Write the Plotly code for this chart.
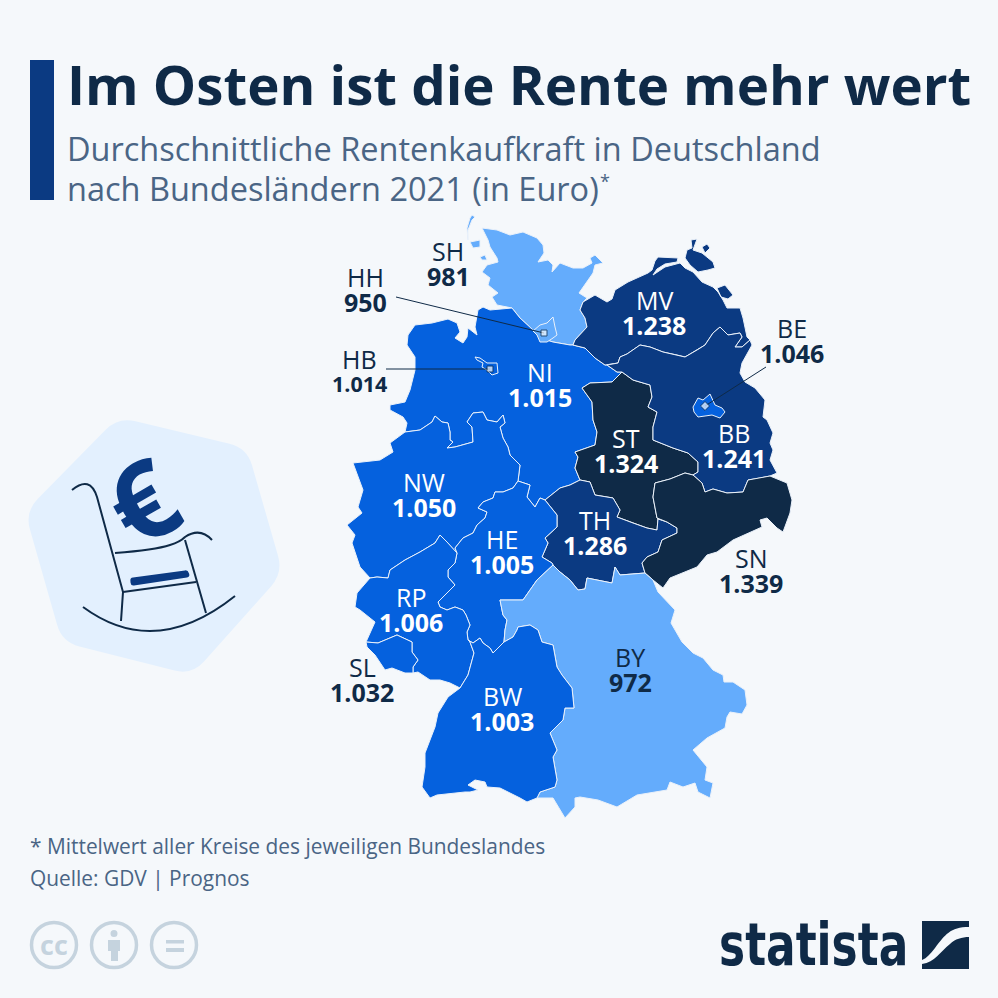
import plotly.graph_objects as go

# Werte je Bundesland
STATES = ['SH', 'NI', 'MV', 'ST', 'BB', 'NW', 'TH', 'HE', 'SN', 'RP', 'SL', 'BY', 'BW', 'HH', 'HB', 'BE']
RENTE = [981, 1015, 1238, 1324, 1241, 1050, 1286, 1005, 1339, 1006, 1032, 972, 1003, 950, 1014, 1046]

# Beschriftungen auf der Karte
LABEL_X = [448, 540, 654, 626, 734, 424, 595, 502, 751, 411, 362, 630, 502, 365, 359, 792]
LABEL_Y = [251, 372, 300, 438, 433, 482, 520, 539, 558, 597, 667, 657, 696, 277, 359, 328]
LABEL_OUTSIDE = ['SH', 'HH', 'HB', 'BE', 'SN', 'SL', 'BY']

# Grenzverlauf (Kartenkoordinaten), gemeinsame Abschnitte
SH_COAST = [(512, 308), (497, 305), (492, 297), (498, 293), (488, 285), (490, 278), (482, 272), (487, 265),
            (498, 262), (497, 258), (490, 247), (488, 240), (482, 228), (497, 230), (510, 235), (523, 232),
            (537, 238), (543, 245), (544, 253), (538, 262), (548, 260), (553, 265), (552, 272), (560, 263),
            (573, 268), (583, 268), (592, 263), (590, 258), (595, 255), (603, 263), (595, 265), (593, 273),
            (579, 293), (587, 298), (583, 302)]
SH_MV = [(573, 345), (575, 340), (587, 327), (585, 318), (580, 310), (583, 302)]
NI_SH = [(512, 308), (520, 318), (533, 330), (540, 338), (553, 342), (570, 345), (573, 345)]
NI_COAST = [(405, 432), (407, 423), (403, 417), (390, 410), (390, 405), (405, 402), (410, 390), (415, 370),
            (415, 357), (407, 345), (408, 335), (415, 325), (432, 323), (448, 319), (457, 323), (460, 332),
            (455, 338), (463, 343), (467, 337), (468, 328), (477, 335), (475, 327), (478, 310), (483, 307),
            (490, 310), (512, 308)]
NI_MV = [(573, 345), (585, 348), (595, 358), (605, 365), (607, 365)]
NI_BB = [(607, 365), (617, 372), (622, 372)]
NI_ST = [(622, 372), (612, 382), (590, 383), (582, 388), (592, 402), (593, 420), (597, 432), (595, 445),
         (575, 452), (578, 457), (575, 468), (580, 480)]
NI_TH = [(580, 480), (570, 485), (560, 488), (545, 500)]
NI_HE = [(518, 481), (530, 485), (527, 497), (535, 507), (540, 498), (545, 500)]
NI_NW = [(405, 432), (420, 430), (432, 422), (435, 416), (442, 422), (448, 423), (450, 432), (450, 440),
         (453, 442), (447, 448), (455, 447), (473, 442), (472, 427), (467, 422), (473, 413), (483, 412),
         (487, 420), (497, 422), (503, 415), (505, 423), (500, 427), (503, 438), (508, 447), (510, 455),
         (520, 465), (518, 481)]
MV_COAST = [(583, 302), (595, 295), (607, 302), (612, 299), (615, 290), (628, 282), (648, 273), (652, 270),
            (655, 261), (658, 257), (678, 258), (677, 262), (665, 264), (657, 269), (653, 275), (665, 267),
            (680, 263), (685, 268), (693, 272), (702, 282), (713, 287), (718, 292), (723, 300), (727, 308),
            (740, 308), (743, 318), (747, 337), (750, 340)]
MV_BB = [(750, 340), (742, 347), (735, 347), (742, 337), (740, 333), (728, 335), (720, 327), (713, 333),
         (705, 345), (697, 350), (685, 357), (677, 355), (663, 352), (650, 347), (640, 345), (627, 354),
         (620, 357), (618, 363), (607, 365)]
BB_COAST = [(750, 340), (752, 345), (748, 352), (742, 363), (740, 373), (745, 382), (755, 388), (765, 400),
            (763, 417), (767, 420), (773, 433), (770, 443), (773, 450), (770, 460), (777, 473), (770, 476)]
BB_SN = [(693, 475), (702, 483), (705, 492), (713, 489), (727, 493), (743, 492), (748, 480), (760, 478), (770, 476)]
ST_BB = [(622, 372), (633, 380), (650, 385), (652, 397), (648, 407), (657, 412), (653, 427), (653, 440),
         (673, 448), (688, 453), (698, 462), (698, 472), (693, 475)]
ST_SN = [(693, 475), (685, 473), (670, 479), (655, 483), (653, 497), (657, 518), (658, 519)]
ST_TH = [(580, 480), (590, 482), (595, 495), (613, 498), (620, 510), (617, 517), (633, 523), (647, 528),
         (657, 530), (658, 519)]
TH_SN = [(658, 519), (667, 522), (677, 528), (677, 533), (662, 540), (658, 552), (647, 557), (642, 563), (645, 573)]
TH_BY = [(645, 573), (620, 575), (615, 567), (612, 583), (587, 578), (585, 589), (578, 590), (570, 580),
         (560, 572), (553, 565)]
HE_TH = [(545, 500), (557, 515), (557, 527), (545, 538), (548, 543), (542, 557), (552, 563), (553, 565)]
HE_BY = [(553, 565), (537, 580), (523, 600), (500, 600), (503, 615), (507, 620), (505, 630), (504, 642)]
HE_BW = [(468, 640), (473, 643), (480, 638), (483, 643), (490, 648), (493, 653), (504, 642)]
HE_RP = [(457, 553), (455, 563), (448, 570), (448, 577), (455, 585), (447, 593), (438, 602), (440, 607),
         (447, 610), (455, 607), (463, 610), (466, 615), (470, 625), (467, 632), (468, 640)]
NW_HE = [(518, 481), (513, 488), (503, 492), (495, 492), (493, 498), (483, 502), (478, 508), (487, 512),
         (485, 518), (477, 525), (473, 533), (463, 538), (455, 548), (457, 553)]
NW_RP = [(457, 553), (447, 542), (440, 535), (435, 543), (420, 552), (405, 560), (390, 570), (388, 578),
         (377, 577), (370, 578)]
NW_COAST = [(370, 578), (360, 567), (352, 543), (355, 535), (347, 525), (362, 513), (358, 507), (363, 490),
            (353, 463), (362, 462), (380, 460), (393, 452), (390, 443), (405, 432)]
RP_W = [(370, 578), (357, 593), (355, 607), (360, 610), (375, 622), (366, 642)]
SL_RP = [(366, 642), (378, 643), (397, 635), (412, 642), (412, 652), (418, 660), (413, 667), (413, 673)]
SL_S = [(413, 673), (405, 673), (392, 668), (385, 670), (375, 655), (367, 647), (366, 642)]
RP_S = [(413, 673), (418, 672), (430, 680), (440, 680), (450, 683), (460, 688)]
BW_RP = [(460, 688), (468, 675), (474, 653), (470, 642), (468, 640)]
BW_COAST = [(460, 688), (448, 697), (438, 713), (435, 727), (425, 753), (425, 767), (422, 787), (430, 798),
            (437, 795), (465, 792), (470, 792), (478, 790), (468, 785), (475, 780), (485, 782), (487, 787),
            (500, 788), (520, 798), (527, 802), (537, 798)]
BW_BY = [(537, 798), (540, 792), (555, 787), (557, 780), (553, 757), (557, 750), (550, 733), (563, 720),
         (565, 708), (574, 708), (572, 688), (562, 675), (557, 667), (553, 645), (542, 642), (538, 630),
         (530, 625), (518, 627), (517, 630), (513, 637), (504, 642)]
BY_SN = [(653, 580), (645, 573)]
SN_OUT = [(770, 476), (787, 483), (792, 500), (790, 513), (783, 532), (777, 528), (767, 518), (760, 520),
          (762, 527), (733, 540), (717, 552), (707, 555), (697, 567), (670, 578), (663, 588), (653, 580)]
BY_OUT = [(653, 580), (658, 592), (675, 610), (671, 623), (682, 642), (693, 653), (703, 658), (713, 670),
          (723, 675), (724, 682), (733, 682), (745, 690), (747, 705), (742, 714), (730, 712), (727, 717),
          (725, 728), (707, 738), (693, 750), (707, 767), (705, 780), (713, 783), (710, 798), (698, 792),
          (695, 783), (683, 787), (670, 782), (667, 790), (637, 795), (617, 807), (598, 800), (580, 797),
          (575, 798), (575, 807), (565, 818), (558, 807), (553, 798), (537, 798)]

# Inseln und Stadtstaaten
SYLT = [(472, 215), (475, 217), (472, 220), (468, 230), (468, 240), (467, 228), (470, 218)]
FOEHR = [(470, 242), (480, 240), (480, 247), (473, 248)]
PELLWORM = [(480, 257), (485, 255), (487, 260), (482, 260)]
RUEGEN = [(685, 258), (687, 250), (692, 248), (691, 240), (697, 239), (693, 250), (702, 253), (713, 262),
          (715, 268), (708, 270), (698, 272), (690, 265)]
HIDDENSEE = [(702, 247), (707, 244), (710, 248), (705, 253)]
USEDOM = [(717, 288), (725, 285), (733, 295), (728, 299), (721, 297)]
HAMBURG = [(533, 331), (540, 325), (547, 323), (553, 317), (555, 327), (557, 335), (553, 338), (547, 342),
           (540, 342), (537, 335)]
BREMEN = [(475, 357), (480, 358), (487, 363), (497, 363), (498, 373), (492, 375), (487, 370), (482, 367),
          (483, 363), (477, 360)]
BERLIN = [(693, 407), (698, 398), (703, 400), (710, 394), (715, 405), (722, 408), (725, 412), (720, 418),
          (712, 415), (698, 417), (694, 412)]


def rev(arc):
    return arc[::-1]


RINGS = {
    'SH': [SH_COAST + rev(SH_MV) + rev(NI_SH), SYLT, FOEHR, PELLWORM],
    'NI': [NI_COAST + NI_SH + NI_MV + NI_BB + NI_ST + NI_TH + rev(NI_HE) + rev(NI_NW)],
    'MV': [SH_MV + MV_COAST + MV_BB + rev(NI_MV), RUEGEN, HIDDENSEE, USEDOM],
    'BB': [rev(MV_BB) + BB_COAST + rev(BB_SN) + rev(ST_BB) + rev(NI_BB)],
    'ST': [ST_BB + ST_SN + rev(ST_TH) + rev(NI_ST)],
    'SN': [BB_SN + SN_OUT + BY_SN + rev(TH_SN) + rev(ST_SN)],
    'TH': [ST_TH + TH_SN + TH_BY + rev(HE_TH) + rev(NI_TH)],
    'HE': [NW_HE + HE_RP + HE_BW + rev(HE_BY) + rev(HE_TH) + rev(NI_HE)],
    'NW': [NI_NW + NW_HE + NW_RP + NW_COAST],
    'RP': [rev(NW_RP) + HE_RP + rev(BW_RP) + rev(RP_S) + rev(SL_RP) + rev(RP_W)],
    'SL': [SL_RP + SL_S],
    'BW': [BW_RP + HE_BW + rev(BW_BY) + rev(BW_COAST)],
    'BY': [rev(TH_BY) + rev(BY_SN) + BY_OUT + BW_BY + rev(HE_BY)],
    'HH': [HAMBURG],
    'HB': [BREMEN],
    'BE': [BERLIN],
}

BG = '#f5f8fb'
NAVY = '#0f2a47'
BLUE_BAR = '#0b3a82'
SLATE = '#4a6585'
CC_GREY = '#c5d3de'
FONT = 'Open Sans'


def fill_for(value):
    if value < 1000:
        return '#64acfc'
    if value < 1100:
        return '#0561de'
    if value < 1300:
        return '#0b3a82'
    return NAVY


def rounded_poly(points, r):
    # Polygon mit abgerundeten Ecken als SVG-Pfad
    path = ''
    n = len(points)
    for i in range(n):
        x0, y0 = points[i - 1]
        x1, y1 = points[i]
        x2, y2 = points[(i + 1) % n]
        d0 = ((x1 - x0) ** 2 + (y1 - y0) ** 2) ** 0.5
        d2 = ((x2 - x1) ** 2 + (y2 - y1) ** 2) ** 0.5
        ax, ay = x1 + (x0 - x1) * r / d0, y1 + (y0 - y1) * r / d0
        bx, by = x1 + (x2 - x1) * r / d2, y1 + (y2 - y1) * r / d2
        path += f"{'M' if i == 0 else 'L'} {ax:.1f} {ay:.1f} Q {x1} {y1} {bx:.1f} {by:.1f} "
    return path + 'Z'


fig = go.Figure()

for state, value in zip(STATES, RENTE):
    xs, ys = [], []
    for ring in RINGS[state]:
        xs += [p[0] for p in ring] + [ring[0][0], None]
        ys += [p[1] for p in ring] + [ring[0][1], None]
    fig.add_trace(go.Scatter(
        x=xs, y=ys, mode='lines', fill='toself', fillcolor=fill_for(value),
        line=dict(color='#eaf1fa', width=1), hoverinfo='skip', showlegend=False
    ))

# Hinweislinien und Marker für die Stadtstaaten
for lx, ly in [([396, 544], [297, 333]), ([386, 490], [369, 369]), ([766, 705], [367, 406])]:
    fig.add_trace(go.Scatter(x=lx, y=ly, mode='lines', line=dict(color=NAVY, width=1),
                             hoverinfo='skip', showlegend=False))
fig.add_trace(go.Scatter(
    x=[544, 490, 705], y=[333, 369, 406], mode='markers',
    marker=dict(symbol=['square', 'square', 'diamond'], size=[6, 6, 7], color='white', line=dict(color=NAVY, width=1)),
    hoverinfo='skip', showlegend=False
))

annotations = []


def add_text(x, y, text, size, color, bold=False, anchor='left', family=FONT, angle=0):
    annotations.append(dict(
        x=x, y=y, xref='x', yref='y', text=f'<b>{text}</b>' if bold else text, showarrow=False,
        xanchor=anchor, yanchor='middle', textangle=angle,
        font=dict(family=family, size=size, color=color)
    ))


for state, value, lx, ly in zip(STATES, RENTE, LABEL_X, LABEL_Y):
    color = NAVY if state in LABEL_OUTSIDE else 'white'
    size = 21.5 if state == 'HB' else 25
    add_text(lx, ly, state, 25, color, anchor='center')
    add_text(lx, ly + 24.5, f'{value:,}'.replace(',', '.'), size, color, bold=True, anchor='center')

add_text(65, 84, 'Im Osten ist die Rente mehr wert', 54.6, NAVY, bold=True)
add_text(65, 148, 'Durchschnittliche Rentenkaufkraft in Deutschland', 32.5, SLATE)
add_text(65, 188, 'nach Bundesländern 2021 (in Euro)', 32.5, SLATE)
add_text(598, 181, '*', 18, SLATE)
add_text(28, 846, '* Mittelwert aller Kreise des jeweiligen Bundeslandes', 20.9, SLATE)
add_text(28, 878, 'Quelle: GDV | Prognos', 20.9, SLATE)
add_text(141, 500, '€', 108, BLUE_BAR, bold=True, anchor='center', angle=-30)
add_text(54, 944, 'cc', 27, CC_GREY, bold=True, anchor='center')
add_text(813, 945, 'statista', 58, NAVY, bold=True, anchor='center', family='DejaVu Sans Condensed, Liberation Sans')

shapes = [
    dict(type='rect', x0=30, x1=54, y0=60, y1=200, fillcolor=BLUE_BAR, line_width=0, layer='below'),
    dict(type='path', path=rounded_poly([(118, 417), (247, 448), (283, 573), (192, 675), (62, 642), (25, 512)], 18),
         fillcolor='#e3f0fe', line_width=0, layer='below'),
    # Schaukelstuhl
    dict(type='path', path='M72 490 Q 90 475 97 497 L 123 592 L 121 621', line=dict(color=NAVY, width=2)),
    dict(type='path', path='M115 553 Q 155 550 170 545 Q 180 542 185 537 Q 200 527 212 540', line=dict(color=NAVY, width=2)),
    dict(type='path', path='M185 540 L 206 613', line=dict(color=NAVY, width=2)),
    dict(type='path', path='M123 592 L 196 582', line=dict(color=NAVY, width=2)),
    dict(type='path', path='M83 607 Q 155 660 235 596', line=dict(color=NAVY, width=2)),
    dict(type='path', path=rounded_poly([(130, 578), (188, 570), (190, 577), (131, 586)], 3),
         fillcolor=BLUE_BAR, line_width=0),
    # Lizenzsymbole
    dict(type='circle', x0=31.5, x1=76.5, y0=922.5, y1=967.5, line=dict(color=CC_GREY, width=3.5)),
    dict(type='circle', x0=91.5, x1=136.5, y0=922.5, y1=967.5, line=dict(color=CC_GREY, width=3.5)),
    dict(type='circle', x0=151.5, x1=196.5, y0=922.5, y1=967.5, line=dict(color=CC_GREY, width=3.5)),
    dict(type='circle', x0=110.5, x1=117.5, y0=930, y1=937, fillcolor=CC_GREY, line_width=0),
    dict(type='path', path='M108 940 L 120 940 L 120 951 L 118 951 L 118 961 L 111 961 L 111 951 L 108 951 Z',
         fillcolor=CC_GREY, line_width=0),
    dict(type='rect', x0=166, x1=184, y0=940, y1=943.5, fillcolor=CC_GREY, line_width=0),
    dict(type='rect', x0=166, x1=184, y0=948, y1=952, fillcolor=CC_GREY, line_width=0),
    # Logo
    dict(type='path', path='M922 921 L 969 921 L 969 927 C 950 927 945 935 935 948 C 930 954 927 958 922 960 Z',
         fillcolor=NAVY, line_width=0),
    dict(type='path', path='M922 969 L 922 964 C 935 962 940 952 950 944 C 955 939 962 937 969 937 L 969 969 Z',
         fillcolor=NAVY, line_width=0),
]

fig.update_layout(
    width=998, height=998,
    margin=dict(l=0, r=0, t=0, b=0),
    paper_bgcolor=BG, plot_bgcolor=BG,
    xaxis=dict(range=[0, 998], visible=False, fixedrange=True),
    yaxis=dict(range=[998, 0], visible=False, fixedrange=True),
    annotations=annotations,
    shapes=shapes,
)

# Logo-Schriftzug schmaler stellen, es gibt keine passende Condensed-Schrift
post = """
document.body.style.margin = '0';
document.querySelectorAll('.annotation-text').forEach(function (t) {
    if (t.textContent === 'statista') {
        t.style.transformBox = 'fill-box';
        t.style.transformOrigin = 'center';
        t.style.transform = 'scaleX(0.84)';
    }
});
"""
fig.write_html("out.html", config={'displayModeBar': False}, post_script=post)
